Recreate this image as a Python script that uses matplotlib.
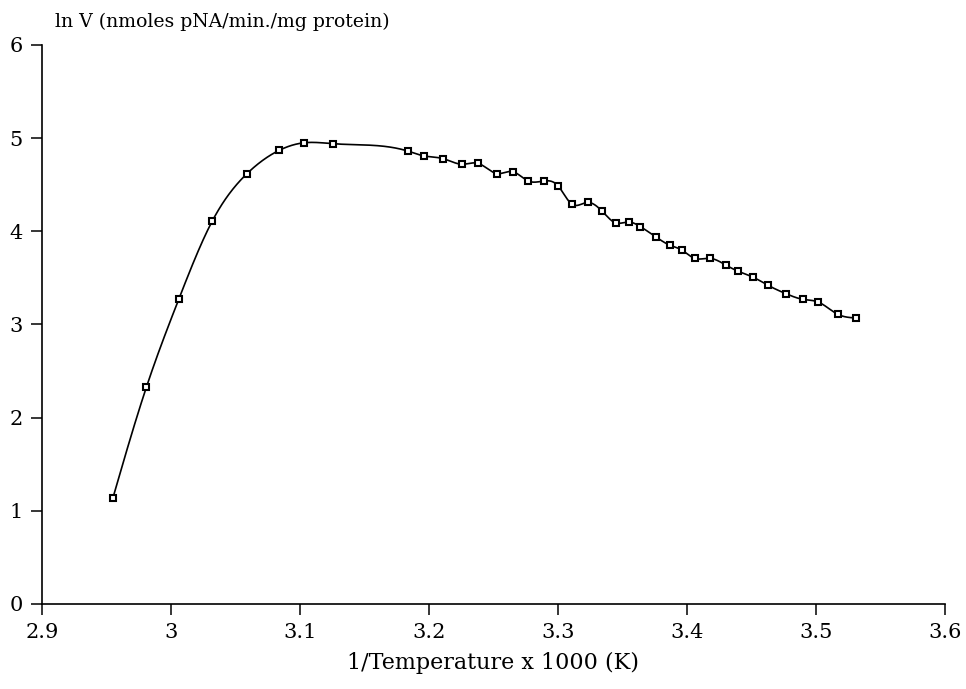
import numpy as np
import matplotlib
matplotlib.use("Agg")
import matplotlib.pyplot as plt

inv_temp = [2.955, 2.981, 3.006, 3.032, 3.059, 3.084, 3.103, 3.126, 3.184, 3.196,
            3.211, 3.226, 3.238, 3.253, 3.265, 3.277, 3.289, 3.300, 3.311, 3.323,
            3.334, 3.345, 3.355, 3.364, 3.376, 3.387, 3.396, 3.406, 3.418, 3.430,
            3.440, 3.451, 3.463, 3.477, 3.490, 3.502, 3.517, 3.531]
ln_v = [1.14, 2.33, 3.27, 4.11, 4.62, 4.87, 4.95, 4.94, 4.86, 4.81,
        4.78, 4.72, 4.73, 4.62, 4.64, 4.54, 4.54, 4.49, 4.29, 4.31,
        4.22, 4.09, 4.10, 4.05, 3.94, 3.85, 3.80, 3.71, 3.71, 3.64,
        3.57, 3.51, 3.42, 3.33, 3.27, 3.24, 3.11, 3.07]
x_ticks = [2.9, 3.0, 3.1, 3.2, 3.3, 3.4, 3.5, 3.6]
x_tick_labels = ["2.9", "3", "3.1", "3.2", "3.3", "3.4", "3.5", "3.6"]
y_ticks = [0, 1, 2, 3, 4, 5, 6]


def natural_spline(x, y, n=1500):
    x = np.asarray(x, float)
    y = np.asarray(y, float)
    m = len(x)
    h = np.diff(x)
    A = np.zeros((m, m))
    b = np.zeros(m)
    A[0, 0] = 1
    A[-1, -1] = 1
    for i in range(1, m - 1):
        A[i, i - 1] = h[i - 1]
        A[i, i] = 2 * (h[i - 1] + h[i])
        A[i, i + 1] = h[i]
        b[i] = 3 * ((y[i + 1] - y[i]) / h[i] - (y[i] - y[i - 1]) / h[i - 1])
    c = np.linalg.solve(A, b)
    bb = (y[1:] - y[:-1]) / h - h * (2 * c[:-1] + c[1:]) / 3
    d = (c[1:] - c[:-1]) / (3 * h)
    xs = np.linspace(x[0], x[-1], n)
    idx = np.clip(np.searchsorted(x, xs) - 1, 0, m - 2)
    dx = xs - x[idx]
    ys = y[idx] + bb[idx] * dx + c[idx] * dx ** 2 + d[idx] * dx ** 3
    return xs, ys


fig = plt.figure(figsize=(9.66, 6.89), dpi=100)
ax = fig.add_axes([0.0435, 0.1234, 0.978 - 0.0435, 0.9347 - 0.1234])

xs, ys = natural_spline(inv_temp, ln_v)
ax.plot(xs, ys, color="black", lw=1.2)
ax.plot(inv_temp, ln_v, ls="none", marker="s", markersize=4.5,
        markerfacecolor="white", markeredgecolor="black", markeredgewidth=1.5)

ax.set_xlim(2.9, 3.6)
ax.set_ylim(0, 6)
ax.set_xticks(x_ticks)
ax.set_xticklabels(x_tick_labels)
ax.set_yticks(y_ticks)
for s in ["top", "right"]:
    ax.spines[s].set_visible(False)
for s in ["left", "bottom"]:
    ax.spines[s].set_linewidth(1.2)
ax.tick_params(direction="out", length=8, width=1.1, labelsize=15, pad=6)
for lab in ax.get_xticklabels() + ax.get_yticklabels():
    lab.set_family("DejaVu Serif")

ax.set_xlabel("1/Temperature x 1000 (K)", fontsize=16, family="DejaVu Serif", labelpad=7)
fig.text(55 / 966, 1 - 22 / 689, "ln V (nmoles pNA/min./mg protein)", fontsize=13.6,
         family="DejaVu Serif", va="center", ha="left")

fig.savefig("out.png", dpi=100)
